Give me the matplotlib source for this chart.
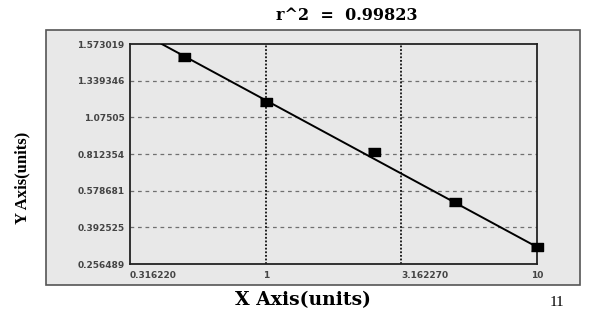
import numpy as np
import matplotlib
matplotlib.use("Agg")
from matplotlib import pyplot as plt
from matplotlib.patches import Rectangle

# standard curve points
conc = [0.5, 1, 2.5, 5, 10]
od = [1.488, 1.188, 0.824, 0.520, 0.321]

# fitted line ends
fit_x = [0.414, 10]
fit_y = [1.573, 0.3196]

x_ticks = [0.31622, 1, 3.16227, 10]
x_labels = ["0.316220", "1", "3.162270", "10"]
y_ticks = [0.256489, 0.392525, 0.578681, 0.812354, 1.07505, 1.339346, 1.573019]
y_labels = ["0.256489", "0.392525", "0.578681", "0.812354", "1.07505", "1.339346", "1.573019"]

r2_text = "r^2  =  0.99823"

# y axis: tick values sit evenly spaced
pos = np.arange(len(y_ticks))


def fwd(v):
    return np.interp(v, y_ticks, pos)


def inv(p):
    return np.interp(p, pos, y_ticks)


fig = plt.figure(figsize=(6, 3.17), dpi=100)
fig.patch.set_facecolor("white")

# gray panel behind the plot
panel = Rectangle((46 / 600, 1 - 285 / 317), 534 / 600, 255 / 317,
                  transform=fig.transFigure, facecolor="#e8e8e8",
                  edgecolor="#555555", linewidth=1.2, zorder=-1)
fig.patches.append(panel)

ax = fig.add_axes([130 / 600, 1 - 264 / 317, 407 / 600, 220 / 317])
ax.set_zorder(2)
ax.set_facecolor("#e8e8e8")
ax.set_xscale("log")
ax.set_yscale("function", functions=(fwd, inv))
ax.set_xlim(0.31622, 10)
ax.set_ylim(0.256489, 1.573019)

for y in y_ticks[1:-1]:
    ax.axhline(y, color="#707070", linestyle=(0, (3, 3)), linewidth=0.9, zorder=1)
for x in x_ticks[1:-1]:
    ax.axvline(x, color="#111111", linestyle=(0, (1, 1)), linewidth=1.3, zorder=1)

ax.plot(fit_x, fit_y, color="black", linewidth=1.4, zorder=3)
box = [(-1.5, -1), (1.5, -1), (1.5, 1), (-1.5, 1)]
ax.plot(conc, od, linestyle="none", marker=box, markersize=8.5,
        color="black", zorder=4, clip_on=False)

ax.set_xticks(x_ticks)
ax.set_xticklabels(x_labels)
ax.xaxis.set_minor_locator(matplotlib.ticker.NullLocator())
ax.set_yticks(y_ticks)
ax.set_yticklabels(y_labels)
ax.tick_params(length=0, labelsize=6.5, labelcolor="#444444")
ax.tick_params(axis="x", pad=5)
ax.tick_params(axis="y", pad=4)
for lab in ax.get_xticklabels() + ax.get_yticklabels():
    lab.set_fontweight("bold")
    lab.set_family("DejaVu Sans")
xl = ax.get_xticklabels()
xl[0].set_horizontalalignment("left")
xl[2].set_horizontalalignment("left")

for s in ax.spines.values():
    s.set_linewidth(1.3)
    s.set_color("#222222")

fig.text(347 / 600, 1 - 15 / 317, r2_text, ha="center", va="center",
         fontsize=11.5, fontweight="bold", family="DejaVu Serif")
fig.text(303 / 600, 1 - 300 / 317, "X Axis(units)", ha="center", va="center",
         fontsize=13.5, fontweight="bold", family="DejaVu Serif")
fig.text(22 / 600, 1 - 178 / 317, "Y Axis(units)", ha="center", va="center",
         rotation=90, fontsize=12, fontweight="bold", family="Liberation Serif")
fig.text(557 / 600, 1 - 302 / 317, "11", ha="center", va="center",
         fontsize=11, family="Liberation Serif")

fig.savefig("out.png", dpi=100)
